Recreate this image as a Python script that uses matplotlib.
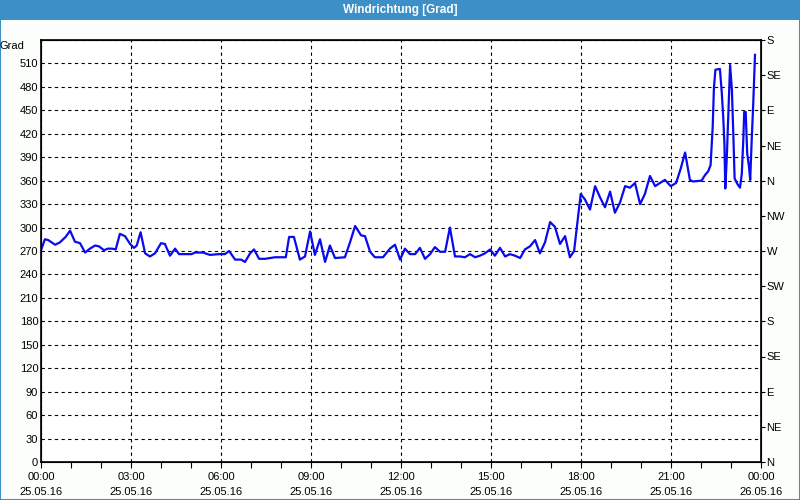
import matplotlib
matplotlib.use("Agg")
import matplotlib.pyplot as plt
from matplotlib.patches import Rectangle

# --- data (time in hours since 25.05.16 00:00, direction in degrees) ---
hours = [
    0.00, 0.13, 0.24, 0.47, 0.63, 0.82, 0.97, 1.13, 1.30, 1.47, 1.63, 1.80, 1.93,
    2.10, 2.23, 2.37, 2.49, 2.63, 2.80, 2.97, 3.10, 3.19, 3.32, 3.47, 3.63, 3.80,
    4.00, 4.13, 4.30, 4.47, 4.60, 5.02, 5.13, 5.40, 5.63, 5.93, 6.13, 6.27, 6.47,
    6.67, 6.80, 6.97, 7.10, 7.27, 7.47, 7.80, 8.16, 8.27, 8.43, 8.63, 8.80, 8.97,
    9.13, 9.30, 9.47, 9.63, 9.80, 10.13, 10.30, 10.47, 10.67, 10.80, 10.97, 11.13,
    11.40, 11.63, 11.80, 11.97, 12.13, 12.30, 12.47, 12.63, 12.80, 12.97, 13.13,
    13.30, 13.47, 13.63, 13.80, 13.97, 14.13, 14.30, 14.47, 14.63, 14.80, 14.97,
    15.13, 15.30, 15.47, 15.63, 15.80, 15.97, 16.13, 16.30, 16.47, 16.63, 16.80,
    16.97, 17.13, 17.30, 17.47, 17.63, 17.77, 17.86, 17.99, 18.13, 18.30, 18.47,
    18.63, 18.80, 18.97, 19.13, 19.30, 19.47, 19.63, 19.80, 19.97, 20.13, 20.30,
    20.47, 20.63, 20.80, 20.99, 21.17, 21.32, 21.47, 21.63, 21.73, 22.02, 22.13,
    22.24, 22.32, 22.39, 22.43, 22.48, 22.63, 22.69, 22.74, 22.78, 22.81, 22.86,
    22.91, 22.97, 23.03, 23.08, 23.12, 23.21, 23.30, 23.36, 23.41, 23.44, 23.49,
    23.54, 23.60, 23.64, 23.69, 23.74, 23.80,
]
direction = [
    271, 285, 284, 278, 281, 288, 296, 282, 280, 268, 273, 277, 276,
    271, 273, 273, 272, 292, 289, 279, 274, 277, 294, 267, 263, 267,
    280, 279, 264, 273, 266, 266, 268, 268, 265, 266, 266, 270, 259,
    259, 256, 267, 272, 260, 260, 262, 262, 288, 288, 259, 263, 295,
    265, 285, 256, 277, 261, 262, 281, 302, 290, 289, 269, 262,
    262, 273, 278, 259, 273, 266, 266, 274, 260, 266, 275,
    269, 269, 300, 263, 263, 262, 266, 262, 264, 267, 272,
    264, 274, 263, 266, 264, 261, 272, 276, 284, 267, 281,
    307, 301, 279, 289, 262, 270, 300, 343, 336, 323, 353,
    339, 326, 346, 319, 332, 353, 351, 357, 330, 343, 366,
    353, 357, 361, 353, 357, 375, 396, 361, 359, 360, 367,
    372, 380, 429, 478, 502, 503, 474, 442, 408, 350, 390,
    444, 508, 476, 416, 363, 356, 351, 369, 412, 448, 448,
    395, 378, 361, 412, 457, 521,
]

left_ticks = list(range(0, 511, 30))
right_ticks = list(range(0, 541, 45))
right_labels = ["N", "NE", "E", "SE", "S", "SW", "W", "NW", "N", "NE", "E", "SE", "S"]
x_ticks = list(range(0, 25, 3))
x_labels = ["00:00\n25.05.16", "03:00\n25.05.16", "06:00\n25.05.16", "09:00\n25.05.16",
            "12:00\n25.05.16", "15:00\n25.05.16", "18:00\n25.05.16", "21:00\n25.05.16",
            "00:00\n26.05.16"]

plt.rcParams['font.family'] = ['Liberation Sans', 'DejaVu Sans']
plt.rcParams['font.size'] = 8

bar_color = '#3d8fc7'
bg_color = '#fbfefb'

fig = plt.figure(figsize=(8, 5), dpi=100, facecolor=bg_color)

# title bar + frame
fig.patches.append(Rectangle((0, 0.96), 1, 0.04, transform=fig.transFigure,
                             facecolor=bar_color, edgecolor='none', zorder=0))
fig.patches.append(Rectangle((0.0006, 0.001), 0.9988, 0.998, transform=fig.transFigure,
                             facecolor='none', edgecolor=bar_color, linewidth=1.5, zorder=0))
fig.text(0.5, 0.98, "Windrichtung [Grad]", color='white', fontweight='bold',
         fontsize=8.5, ha='center', va='center')

ax = fig.add_axes([41 / 800, 38 / 500, 720 / 800, 422 / 500])
ax.set_facecolor('white')
ax.plot(hours, direction, color='#0a0af0', linewidth=1.6, zorder=3)

ax.set_xlim(0, 24)
ax.set_ylim(0, 540)
ax.set_xticks(x_ticks)
ax.set_xticklabels(x_labels, linespacing=1.6)
ax.set_xticks(range(0, 25), minor=True)
ax.set_yticks(left_ticks)
ax.tick_params(axis='x', which='both', direction='out', length=4, width=0.8, pad=3)
ax.tick_params(axis='y', direction='out', length=3, width=0.8, pad=2)

ax.grid(True, color='black', linestyle=(0, (3, 3)), linewidth=0.8)
ax.set_yticks(range(0, 541, 30))
ax.set_yticklabels([str(v) for v in left_ticks] + [""])
ax.tick_params(axis='y', which='major', length=0)

for side in ['left', 'right', 'bottom', 'top']:
    ax.spines[side].set_linewidth(1.2)
    ax.spines[side].set_color('black')

ax2 = ax.twinx()
ax2.set_ylim(0, 540)
ax2.set_yticks(right_ticks)
ax2.set_yticklabels(right_labels)
ax2.tick_params(axis='y', direction='out', length=3, width=0.8, pad=1)

fig.text(24 / 800, 1 - 46 / 500, "Grad", ha='right', va='center', fontsize=8)

fig.savefig("out.png", dpi=100, facecolor=bg_color)
